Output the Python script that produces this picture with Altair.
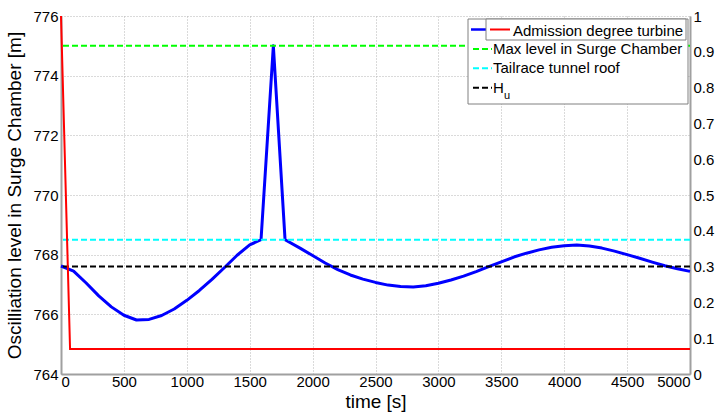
import altair as alt
import pandas as pd

FONT = "Liberation Sans"

# ---- data ----
time_s = [0, 100, 200, 300, 400, 500, 600, 700, 800, 900, 1000, 1100, 1200, 1300,
          1400, 1500, 1590, 1688, 1781, 1900, 2000, 2100, 2200, 2300, 2400, 2500,
          2600, 2700, 2800, 2900, 3000, 3100, 3200, 3300, 3400, 3500, 3600, 3700,
          3800, 3900, 4000, 4100, 4200, 4300, 4400, 4500, 4600, 4700, 4800, 4900, 5000]
level_m = [767.62, 767.45, 767.05, 766.62, 766.25, 765.97, 765.81, 765.83, 765.96,
           766.18, 766.47, 766.8, 767.17, 767.57, 767.98, 768.33, 768.5, 775.0,
           768.5, 768.22, 767.97, 767.72, 767.5, 767.32, 767.18, 767.07, 766.98,
           766.93, 766.92, 766.96, 767.04, 767.15, 767.28, 767.43, 767.6, 767.76,
           767.92, 768.05, 768.16, 768.25, 768.3, 768.32, 768.29, 768.22, 768.12,
           768.0, 767.88, 767.75, 767.63, 767.53, 767.44]

adm_time_s = [0, 72, 5000]
adm_degree = [1.0, 0.07, 0.07]

ref_labels = ["Max level in Surge Chamber", "Tailrace tunnel roof", "H"]
ref_subs = ["", "", "u"]
ref_levels = [775.0, 768.5, 767.6]
ref_colors = ["#00ff00", "#00ffff", "#000000"]

level_label = "Oscilliation level in Surge Chamber [m]"
adm_label = "Admission degree turbine"
x_ticks = list(range(0, 5001, 500))
y_ticks = list(range(764, 777, 2))
y2_ticks = [i / 10 for i in range(0, 11)]

# ---- layout ----
W, H = 629, 358
L, T = 61, 16

level_df = pd.DataFrame({"t": time_s, "level": level_m})
adm_df = pd.DataFrame({"t": adm_time_s, "adm": adm_degree})
ref_df = pd.DataFrame({"label": ref_labels, "sub": ref_subs,
                       "level": ref_levels, "color": ref_colors})

x_enc = alt.X("t:Q", scale=alt.Scale(domain=[0, 5000], nice=False),
              axis=alt.Axis(values=x_ticks, format="d", title="time [s]", grid=True,
                            ticks=False, labelPadding=0, titlePadding=3))
y_scale = alt.Scale(domain=[764, 776], nice=False)
y_axis = alt.Axis(values=y_ticks, title=level_label, grid=True, ticks=False,
                  labelPadding=3, titlePadding=8)

blue = alt.Chart(level_df).mark_line(color="#0000ff", strokeWidth=3,
                                     strokeJoin="round").encode(
    x=x_enc, y=alt.Y("level:Q", scale=y_scale, axis=y_axis))

rules = alt.Chart(ref_df).mark_rule(strokeDash=[6, 3], strokeWidth=2).encode(
    y=alt.Y("level:Q", scale=y_scale, axis=y_axis),
    color=alt.Color("color:N", scale=None))

left = alt.layer(blue, rules)

red = alt.Chart(adm_df).mark_line(color="#ff0000", strokeWidth=2).encode(
    x=alt.X("t:Q", scale=alt.Scale(domain=[0, 5000], nice=False)),
    y=alt.Y("adm:Q", scale=alt.Scale(domain=[0, 1], nice=False),
            axis=alt.Axis(orient="right", values=y2_ticks, format="~g",
                          title=None, grid=False, ticks=False, labelPadding=3)))

# ---- legend (drawn in pixel space over the plot) ----
one = pd.DataFrame({"k": [0]})
row0 = 29.5 - T
step = 19.4
leg_rows = ref_df.assign(ly=[row0 + step * (i + 1) for i in range(len(ref_df))])

outer_box = alt.Chart(one).mark_rect(fill="white", stroke="#808080", strokeWidth=1).encode(
    x=alt.value(468 - L), x2=alt.value(688 - L), y=alt.value(19 - T), y2=alt.value(104 - T))
blue_sample = alt.Chart(one).mark_rule(color="#0000ff", strokeWidth=2.5).encode(
    x=alt.value(471 - L), x2=alt.value(487 - L), y=alt.value(row0))
inner_box = alt.Chart(one).mark_rect(fill="white", stroke="#808080", strokeWidth=1).encode(
    x=alt.value(486 - L), x2=alt.value(686 - L), y=alt.value(19 - T), y2=alt.value(40 - T))
red_sample = alt.Chart(one).mark_rule(color="#ff0000", strokeWidth=2).encode(
    x=alt.value(490 - L), x2=alt.value(510 - L), y=alt.value(row0))
red_text = alt.Chart(pd.DataFrame({"label": [adm_label]})).mark_text(
    align="left", baseline="middle", fontSize=15, font=FONT, color="black").encode(
    x=alt.value(513 - L), y=alt.value(row0 + 1), text="label:N")

dash_samples = alt.Chart(leg_rows).mark_rule(strokeDash=[6, 3], strokeWidth=2).encode(
    x=alt.value(473 - L), x2=alt.value(492 - L),
    y=alt.Y("ly:Q", scale=None, axis=None),
    color=alt.Color("color:N", scale=None, legend=None))
dash_texts = alt.Chart(leg_rows).mark_text(
    align="left", baseline="middle", fontSize=15, font=FONT, color="black").encode(
    x=alt.value(493 - L),
    y=alt.Y("ly:Q", scale=None, axis=None),
    text="label:N")
sub_texts = alt.Chart(leg_rows).mark_text(
    align="left", baseline="middle", fontSize=11, font=FONT, color="black", dx=11, dy=8).encode(
    x=alt.value(493 - L),
    y=alt.Y("ly:Q", scale=None, axis=None),
    text="sub:N")

chart = alt.layer(
    left, red, outer_box, blue_sample, inner_box, red_sample, red_text,
    dash_samples, dash_texts, sub_texts
).resolve_scale(y="independent").properties(
    width=W, height=H,
    autosize=alt.AutoSizeParams(type="none"),
    padding={"left": L, "top": T, "right": 715 - L - W, "bottom": 417 - T - H},
    background="white",
).configure_view(stroke=None).configure_axis(
    labelFont=FONT, titleFont=FONT, labelFontSize=15, titleFontSize=19,
    labelColor="black", titleColor="black", titleFontWeight="normal",
    domainColor="#a0a0a0", domainWidth=2,
    gridColor="#b4b4b4", gridDash=[1, 2], gridWidth=1,
)

chart.save("out.html", embed_options={"renderer": "svg", "actions": False})
